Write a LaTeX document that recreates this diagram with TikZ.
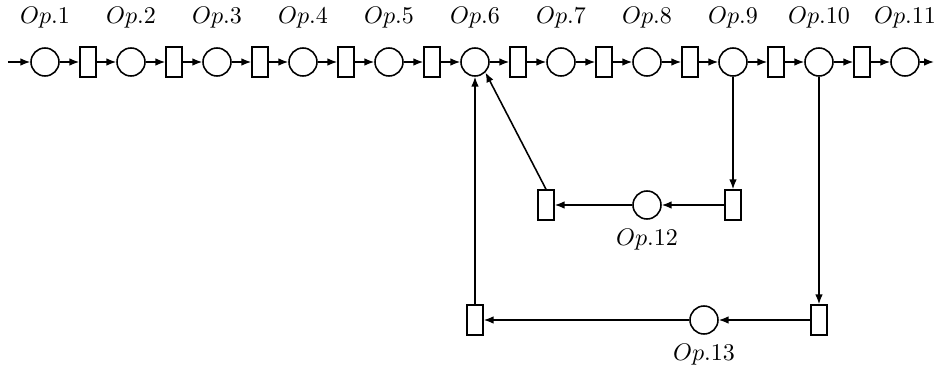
\documentclass[tikz,border=0pt]{standalone}
\usetikzlibrary{arrows.meta}
\begin{document}
\begin{tikzpicture}[x=0.45pt,y=-0.45pt,
  every path/.style={line width=0.7pt},
  place/.style={draw,circle,minimum size=12.6pt,inner sep=0pt},
  trans/.style={draw,rectangle,minimum width=7.2pt,minimum height=13.5pt,inner sep=0pt},
  oplabel/.style={inner sep=0pt,scale=1.08},
  arc/.style={-{Latex[length=4.4pt,width=3.4pt]}}]
\useasboundingbox (0,0) rectangle (935,369);
% main sequence of places and transitions
\foreach \i [evaluate=\i as \xp using {45+86*(\i-1)}] in {1,...,11} {
  \node[place] (p\i) at (\xp,62) {};
  \node[oplabel] (l\i) at (\xp,18) {$Op.\i$};
}
\foreach \i [evaluate=\i as \xr using {88+86*(\i-1)}] in {1,...,10} {
  \node[trans] (r\i) at (\xr,62) {};
}
\coordinate (in) at (8,62);
\coordinate (out) at (934,62);
\draw[arc] (in) -- (p1);
\foreach \i [evaluate=\i as \j using int(\i+1)] in {1,...,10} {
  \draw[arc] (p\i) -- (r\i);
  \draw[arc] (r\i) -- (p\j);
}
\draw[arc] (p11) -- (out);
% first loop back through Op.12
\node[trans] (r12a) at (733,205) {};
\node[place] (p12) at (647,205) {};
\node[trans] (r12b) at (546,205) {};
\node[oplabel] (l12) at (647,240) {$Op.12$};
\draw[arc] (p9) -- (r12a);
\draw[arc] (r12a) -- (p12);
\draw[arc] (p12) -- (r12b);
\draw[arc] (r12b.north) -- (p6.-45);
% second loop back through Op.13
\node[trans] (r13a) at (819,320) {};
\node[place] (p13) at (704,320) {};
\node[trans] (r13b) at (475,320) {};
\node[oplabel] (l13) at (704,355) {$Op.13$};
\draw[arc] (p10) -- (r13a);
\draw[arc] (r13a) -- (p13);
\draw[arc] (p13) -- (r13b);
\draw[arc] (r13b) -- (p6);
\end{tikzpicture}
\end{document}
